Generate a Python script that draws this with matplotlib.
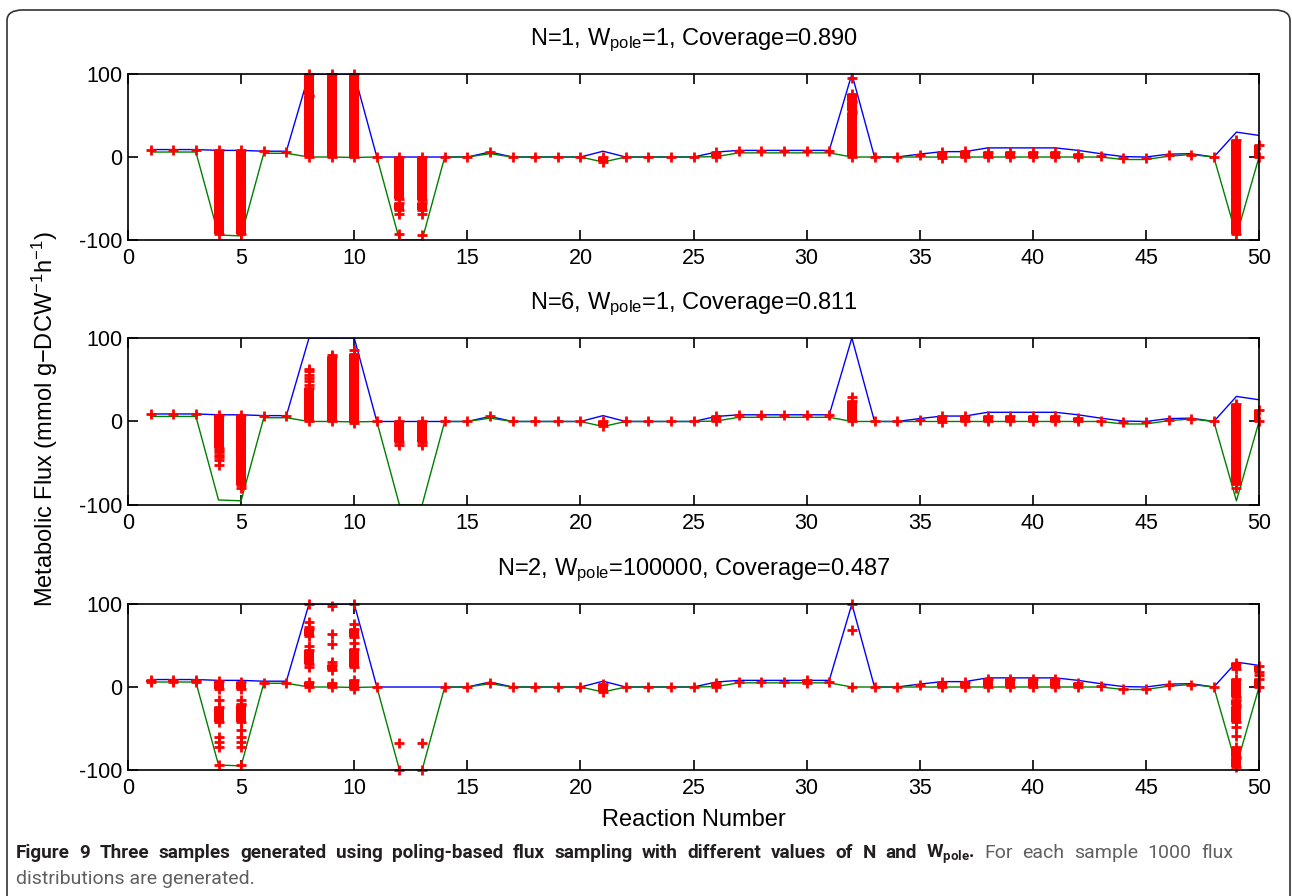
import numpy as np
import matplotlib
matplotlib.use("Agg")
import matplotlib.pyplot as plt
from matplotlib.patches import FancyBboxPatch

plt.rcParams['font.family'] = ['Liberation Sans', 'DejaVu Sans']
plt.rcParams['mathtext.fontset'] = 'custom'
plt.rcParams['mathtext.rm'] = 'Liberation Sans'
plt.rcParams['mathtext.it'] = 'Liberation Sans:italic'
plt.rcParams['mathtext.bf'] = 'Roboto:bold'
plt.rcParams['axes.unicode_minus'] = False

# reaction bounds (same in every panel)
reactions = np.arange(1, 51)
upper = [9, 9, 9, 8, 8, 7, 7, 100, 100, 100,
         0, 0, 0, 0, 0, 6, 0, 0, 0, 0,
         7, 0, 0, 0, 0, 6, 8, 8, 8, 8,
         8, 100, 0, 0, 3.5, 6.5, 6.5, 11, 11, 11,
         11, 8, 4, 0.5, 0, 3.5, 4, 0, 30, 26]
lower = [6, 6, 6, -94, -95, 4.5, 4.5, 0, 0, -0.5,
         0, -100, -100, 0, 0, 4, 0, 0, 0, 0,
         -6, 0, 0, 0, 0, 0.5, 5, 5, 5, 5,
         5, 0, 0, 0, 0, 0, 0, 0, 0, 0,
         0, 0, 0, -3, -3, 1, 3, 0, -95, 0]

titles = ["N=1, W$_{\\mathrm{pole}}$=1, Coverage=0.890",
          "N=6, W$_{\\mathrm{pole}}$=1, Coverage=0.811",
          "N=2, W$_{\\mathrm{pole}}$=100000, Coverage=0.487"]

# dense runs of samples: (reaction, low, high)
bars1 = [(4, -93, 8), (5, -93, 8), (8, 0, 73), (8, 75, 100), (9, 0, 100), (10, 0, 100),
         (12, -51, 0), (12, -64, -55), (13, -52, 0), (13, -64, -55), (21, -6, 0), (26, 0, 6),
         (32, 0, 53), (32, 55, 66), (32, 68, 76), (36, -1, 6), (37, 0, 7), (38, 0, 6),
         (39, 0, 6), (40, 0, 6), (41, 0, 6), (42, 0, 4), (49, -93, 21), (50, 0, 15)]
bars2 = [(4, -32, 8), (5, -76, 8), (8, 0, 40), (9, 0, 77), (10, -2, 81), (12, -24, 0),
         (13, -25, 0), (21, -6, 0), (26, 0, 6), (32, 0, 24), (36, -1, 6), (37, 0, 6),
         (38, 0, 6), (39, 0, 6), (40, 0, 6), (41, 0, 6), (42, 0, 4), (49, -75, 21), (50, 0, 14)]
bars3 = [(1, 6, 9), (2, 6, 9), (3, 6, 9), (4, -2, 7), (4, -42, -24), (5, -2, 6), (5, -42, -22),
         (8, 62, 70), (8, 28, 45), (8, 0, 6), (9, 21, 26), (9, 0, 5), (10, 60, 70), (10, 24, 46),
         (10, -2, 8), (21, -6, 4), (26, 0, 5), (30, 5, 8), (36, 0, 6), (37, 0, 6), (38, 0, 10),
         (39, 0, 10), (40, 0, 10), (41, 0, 10), (42, 0, 5), (49, 22, 29), (49, -12, 10),
         (49, -22, -16), (49, -42, -24), (49, -84, -72), (49, -96, -86), (50, 18, 25), (50, 0, 10)]

# single samples: (reaction, value)
points1 = [(1, 8.5), (2, 8.5), (3, 8.5), (6, 7), (7, 6), (11, 0), (12, -69), (12, -93),
           (13, -69), (13, -94), (14, 0), (15, 0), (16, 6), (17, 0), (18, 0), (19, 0), (20, 0),
           (22, 0), (23, 0), (24, 0), (25, 0), (27, 7.5), (28, 7.5), (29, 7.5), (30, 7.5),
           (31, 7.5), (32, 95), (33, 0), (34, 0), (35, 2), (43, 1), (44, -1), (45, -1),
           (46, 2), (47, 3), (48, 0)]
points2 = [(1, 8.5), (2, 8.5), (3, 8.5), (4, -34), (4, -37), (4, -40), (4, -43), (4, -46),
           (4, -52), (5, -80), (6, 6.5), (7, 6), (8, 44), (8, 48), (8, 52), (8, 56), (8, 60),
           (8, 63), (9, 80), (10, 86), (11, 0), (12, -28), (13, -28), (14, 0), (15, 0), (16, 6),
           (17, 0), (18, 0), (19, 0), (20, 0), (22, 0), (23, 0), (24, 0), (25, 0), (27, 7.5),
           (28, 7.5), (29, 7.5), (30, 7.5), (31, 7.5), (32, 29), (33, 0), (34, 0), (35, 2),
           (43, 1), (44, -1), (45, -1), (46, 2), (47, 3), (48, 0), (49, -80)]
points3 = [(4, -16), (4, -60), (4, -66), (4, -72), (4, -94), (5, -16), (5, -20), (5, -52),
           (5, -60), (5, -66), (5, -72), (5, -94), (6, 5), (7, 4.5), (8, 100), (8, 78), (8, 72),
           (8, 50), (8, 24), (9, 98), (9, 64), (9, 52), (9, 30), (10, 100), (10, 76), (10, 53),
           (11, 0), (12, -68), (12, -100), (13, -68), (13, -100), (14, 0), (15, 0), (16, 5),
           (17, 0), (18, 0), (19, 0), (20, 0), (22, 0), (23, 0), (24, 0), (25, 0), (27, 6.5),
           (28, 6.5), (29, 6.5), (31, 6.5), (32, 100), (32, 69), (32, 0), (33, 0), (34, 0),
           (35, 2), (43, 1), (44, -2), (45, -2), (46, 2), (47, 2), (48, 0), (49, -48),
           (49, -59), (50, 14)]

xticks = np.arange(0, 51, 5)
yticks = [-100, 0, 100]

caption_bold = ("Figure 9 Three samples generated using poling-based flux sampling "
                "with different values of N and W$_{\\mathbf{pole}}$.")
caption_line1 = "For each sample 1000 flux"
caption_line2 = "distributions are generated."

W, H = 1292, 896
fig = plt.figure(figsize=(W / 100, H / 100), dpi=100)

# rounded frame round the figure
frame = FancyBboxPatch((7 / W, -0.05), 1283 / W, 1.05 - 10 / H,
                       boxstyle="round,pad=0,rounding_size=0.012",
                       transform=fig.transFigure, fill=False,
                       edgecolor='#333333', lw=1.2)
fig.patches.append(frame)

positions = [(0.0991, 0.7321, 0.8754, 0.1853),
             (0.0991, 0.4364, 0.8754, 0.1864),
             (0.0991, 0.1406, 0.8754, 0.1853)]

red = '#ff0000'
for pos, bars, points, title in zip(positions, [bars1, bars2, bars3],
                                    [points1, points2, points3], titles):
    ax = fig.add_axes(pos)
    ax.plot(reactions, upper, color='#0000ff', lw=1)
    ax.plot(reactions, lower, color='#008000', lw=1)
    for r, lo, hi in bars:
        ax.plot([r, r], [lo, hi], color=red, lw=7.2, solid_capstyle='butt')
        ax.plot([r, r], [lo, hi], '+', color=red, ms=7, mew=2, clip_on=False)
    pr, pv = zip(*points)
    ax.plot(pr, pv, '+', color=red, ms=7, mew=2, ls='none', clip_on=False)

    ax.set_xlim(0, 50)
    ax.set_ylim(-100, 100)
    ax.set_xticks(xticks)
    ax.set_yticks(yticks)
    ax.tick_params(direction='in', top=True, right=True, length=7, width=1.2,
                   labelsize=15.5)
    ax.tick_params(axis='x', pad=6)
    ax.tick_params(axis='y', pad=4)
    for s in ax.spines.values():
        s.set_linewidth(1.2)
    ax.set_title(title, fontsize=17, pad=20.5)

fig.text(0.035, 0.532, "Metabolic Flux (mmol g\u2212DCW$^{\\mathrm{-1}}$h$^{\\mathrm{-1}}$)",
         rotation=90, ha='center', va='center', fontsize=17)
fig.text(0.537, 1 - 820 / H, "Reaction Number", ha='center', va='center', fontsize=17)

# caption, first line justified between x=16 and x=1233
y1 = 1 - 858 / H
bold_words = caption_bold.split(" ")
reg_words = caption_line1.split(" ")
arts = [fig.text(0, y1, w, family='Roboto', weight='bold', fontsize=13.6,
                 color='#231f20', ha='left', va='baseline') for w in bold_words]
arts += [fig.text(0, y1, w, family='Roboto', fontsize=14, color='#606060',
                  ha='left', va='baseline') for w in reg_words]
fig.canvas.draw()
renderer = fig.canvas.get_renderer()
widths = [a.get_window_extent(renderer).width for a in arts]
x0, x1 = 16, 1233
gap = (x1 - x0 - sum(widths)) / (len(arts) - 1)
x = x0
for a, w in zip(arts, widths):
    a.set_x(x / W)
    x += w + gap
fig.text(16 / W, 1 - 884 / H, caption_line2,
         family='Roboto', fontsize=14, color='#606060', ha='left', va='baseline')

fig.savefig("out.png", dpi=100)
